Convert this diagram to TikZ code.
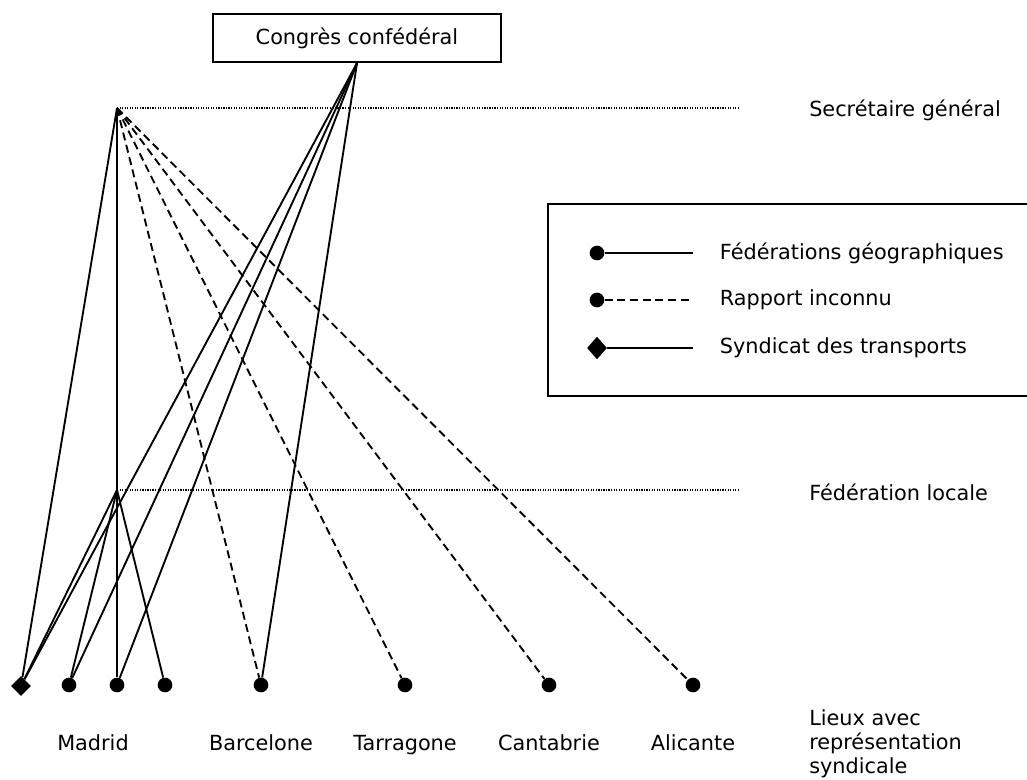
\documentclass[tikz,border=0pt]{standalone}
\usepackage{fontspec}
\setmainfont{DejaVu Sans}
\usetikzlibrary{shapes.geometric, positioning}

\begin{document}
\begin{tikzpicture}[
    x=0.75pt, y=-0.75pt,
    font=\fontsize{15.6}{18}\selectfont,
    txt/.style={inner sep=0pt},
    box/.style={rectangle, draw, line width=1.6pt, minimum width=216pt, minimum height=36pt},
    dot/.style={circle, fill, inner sep=0pt, minimum size=11pt},
    dmd/.style={diamond, fill, inner sep=0pt, minimum width=15pt, minimum height=15pt},
    link/.style={line width=1.4pt},
    unk/.style={line width=1.4pt, dash pattern=on 6pt off 3.5pt},
    level/.style={line width=0.9pt, densely dotted}]
    \useasboundingbox (0,0) rectangle (1027,780);

    % sommet et niveaux
    \node[box] (congres) at (357,38) {Congrès confédéral};
    \coordinate (sg) at (117,108);
    \coordinate (fl) at (117,490);
    \coordinate (sgend) at (740,108);
    \coordinate (flend) at (740,490);
    \draw[level] (sg) -- (sgend);
    \draw[level] (fl) -- (flend);
    \node[txt, anchor=base west] (sgtext) at (809,117) {Secrétaire général};
    \node[txt, anchor=base west] (fltext) at (809,500) {Fédération locale};

    % lieux
    \node[dmd] (m0) at (21,686) {};
    \node[dot] (m1) at (69,685) {};
    \node[dot] (m2) at (117,685) {};
    \node[dot] (m3) at (165,685) {};
    \node[dot] (bcn) at (261,685) {};
    \node[dot] (tar) at (405,685) {};
    \node[dot] (can) at (549,685) {};
    \node[dot] (ali) at (693,685) {};
    \node[txt, anchor=base] (madrid) at (93,750) {Madrid};
    \node[txt, anchor=base] (barcelone) at (bcn |- madrid.base) {Barcelone};
    \node[txt, anchor=base] (tarragone) at (tar |- madrid.base) {Tarragone};
    \node[txt, anchor=base] (cantabrie) at (can |- madrid.base) {Cantabrie};
    \node[txt, anchor=base] (alicante) at (ali |- madrid.base) {Alicante};
    \node[txt, anchor=base west, align=left] (lieux) at (809,773) {Lieux avec\\représentation\\syndicale};

    % liens
    \foreach \p in {m0,m1,m2,bcn} \draw[link] (congres.south) -- (\p);
    \draw[link] (sg) -- (m0);
    \draw[link] (sg) -- (m2);
    \foreach \p in {m0,m1,m3} \draw[link] (fl) -- (\p);
    \foreach \p in {bcn,tar,can,ali} \draw[unk] (sg) -- (\p);

    % legende
    \draw[line width=1.6pt] (548,204) rectangle (1040,396);
    \node[dot] (lg1) at (597,253) {};
    \node[dot] (lg2) at (597,300) {};
    \node[dmd, minimum height=17pt] (lg3) at (597,348) {};
    \coordinate (lg1end) at (693,253);
    \coordinate (lg2end) at (693,300);
    \coordinate (lg3end) at (693,348);
    \draw[link] (lg1) -- (lg1end);
    \draw[unk] (lg2) -- (lg2end);
    \draw[link] (lg3) -- (lg3end);
    \node[txt, right=20pt of lg1end] (lgt1) {Fédérations géographiques};
    \node[txt, right=20pt of lg2end] (lgt2) {Rapport inconnu};
    \node[txt, right=20pt of lg3end] (lgt3) {Syndicat des transports};
\end{tikzpicture}
\end{document}
